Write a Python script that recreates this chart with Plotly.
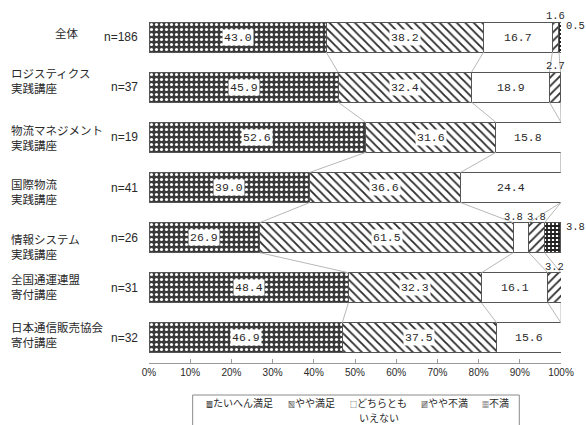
import plotly.graph_objects as go

# Survey results: satisfaction by course (percent of respondents)
course_lines = [
    ["全体"],
    ["ロジスティクス", "実践講座"],
    ["物流マネジメント", "実践講座"],
    ["国際物流", "実践講座"],
    ["情報システム", "実践講座"],
    ["全国通運連盟", "寄付講座"],
    ["日本通信販売協会", "寄付講座"],
]
sample_sizes = ["n=186", "n=37", "n=19", "n=41", "n=26", "n=31", "n=32"]
levels = ["たいへん満足", "やや満足", "どちらとも<br>いえない", "やや不満", "不満"]

very_satisfied = [43.0, 45.9, 52.6, 39.0, 26.9, 48.4, 46.9]
satisfied = [38.2, 32.4, 31.6, 36.6, 61.5, 32.3, 37.5]
neutral = [16.7, 18.9, 15.8, 24.4, 3.8, 16.1, 15.6]
dissatisfied = [1.6, 2.7, 0.0, 0.0, 3.8, 3.2, 0.0]
very_dissatisfied = [0.5, 0.0, 0.0, 0.0, 3.8, 0.0, 0.0]

x_ticks = [0, 10, 20, 30, 40, 50, 60, 70, 80, 90, 100]
x_tick_labels = ["0%", "10%", "20%", "30%", "40%", "50%", "60%", "70%", "80%", "90%", "100%"]

series = [very_satisfied, satisfied, neutral, dissatisfied, very_dissatisfied]

JP_FONT = "Noto Sans CJK JP"
NUM_FONT = "Liberation Mono, DejaVu Sans Mono, monospace"
NARROW_FONT = "Liberation Sans Narrow, Arial Narrow, Liberation Sans, sans-serif"
TEXT = "#2a2a2a"
BAR_W = 0.6

# plot area geometry in pixels (used to place the text outside the axes)
W, H = 586, 425
ML, MR, MT, MB = 149, 22, 12, 62
PW, PH = W - ML - MR, H - MT - MB


def px_x(px):
    return (px - ML) / PW


def px_y(py):
    return (H - MB - py) / PH


patterns = [
    dict(shape=".", fgcolor="#ffffff", bgcolor="#3a3a3a", size=5, solidity=0.3, fillmode="replace"),
    dict(shape="\\", fgcolor="#2a2a2a", bgcolor="#ffffff", size=6, solidity=0.3, fillmode="replace"),
    dict(shape="", fgcolor="#ffffff", bgcolor="#ffffff"),
    dict(shape="/", fgcolor="#2a2a2a", bgcolor="#ffffff", size=6, solidity=0.3, fillmode="replace"),
    dict(shape="+", fgcolor="#222222", bgcolor="#ffffff", size=4, solidity=0.7, fillmode="replace"),
]
legend_marks = ["▩", "▧", "□", "▨", "▦"]

ypos = list(range(len(course_lines)))

fig = go.Figure()

# cumulative boundaries of each stacked bar
cums = []
for i in ypos:
    c, row = 0.0, []
    for s in series:
        c += s[i]
        row.append(min(c, 100.0))
    cums.append(row)

# grey connector lines between neighbouring bars at each segment boundary
lx, ly = [], []
for i in ypos[:-1]:
    for k in range(4):
        lx += [cums[i][k], cums[i + 1][k], None]
        ly += [i + BAR_W / 2, i + 1 - BAR_W / 2, None]
fig.add_trace(go.Scatter(x=lx, y=ly, mode="lines", line=dict(color="#b8b8b8", width=1),
                         hoverinfo="skip", showlegend=False))

for name, vals, pat in zip(levels, series, patterns):
    fig.add_trace(go.Bar(
        y=ypos, x=vals, name=name.replace("<br>", ""), orientation="h", width=BAR_W,
        marker=dict(color=pat["bgcolor"], pattern=pat, line=dict(color="#555555", width=1)),
        showlegend=False,
    ))

annotations = []
# vertical offset (px) of each course-name block relative to its bar
name_shift = [-4, -6.5, 0.5, 3.5, 8.5, -1.5, -3]

for i in ypos:
    start = 0.0
    for k, s in enumerate(series):
        v = s[i]
        mid = start + v / 2
        if v >= 5:
            annotations.append(dict(
                x=mid, y=i, xref="x", yref="y", text=f"{v:.1f}", showarrow=False,
                bgcolor="#ffffff", borderpad=1,
                font=dict(family=NUM_FONT, size=11.5, color=TEXT)))
        elif v > 0:
            if k == 4:
                annotations.append(dict(
                    x=100, y=i - 0.22, xref="x", yref="y", text=f"{v:.1f}", showarrow=False,
                    xanchor="left", xshift=3,
                    font=dict(family=NUM_FONT, size=10.5, color=TEXT)))
            else:
                annotations.append(dict(
                    x=mid, y=i - BAR_W / 2, xref="x", yref="y", text=f"{v:.1f}", showarrow=False,
                    yanchor="bottom", yshift=-2, xshift=-8 if k == 2 else 0,
                    font=dict(family=NUM_FONT, size=10.5, color=TEXT)))
        start += v

    # course name and sample size on the left
    lines = course_lines[i]
    if len(lines) == 1:
        annotations.append(dict(
            x=px_x(66), y=i, xref="paper", yref="y", text=lines[0], showarrow=False,
            xanchor="center", yshift=-name_shift[i],
            font=dict(family=JP_FONT, size=11.5, color=TEXT)))
    else:
        for j, line in enumerate(lines):
            annotations.append(dict(
                x=px_x(8), y=i, xref="paper", yref="y", text=line, showarrow=False,
                xanchor="left", yshift=-(name_shift[i] + (j - 0.5) * 15),
                font=dict(family=JP_FONT, size=11.5, color=TEXT)))
    annotations.append(dict(
        x=px_x(140), y=i, xref="paper", yref="y", text=sample_sizes[i], showarrow=False,
        xanchor="right",
        font=dict(family=NARROW_FONT, size=12, color=TEXT)))

# legend below the axis
legend_x = [205, 288, 350, 422, 483]
for k, (mark, name) in enumerate(zip(legend_marks, levels)):
    parts = name.split("<br>")
    annotations.append(dict(
        x=px_x(legend_x[k]), y=px_y(403), xref="paper", yref="paper",
        text=f'<span style="font-size:7px">{mark}</span>{parts[0]}', showarrow=False,
        xanchor="left", yanchor="middle", borderpad=0,
        font=dict(family=JP_FONT, size=10, color=TEXT)))
    if len(parts) > 1:
        annotations.append(dict(
            x=px_x(381), y=px_y(417.5), xref="paper", yref="paper",
            text=parts[1], showarrow=False,
            xanchor="center", yanchor="middle", borderpad=0,
            font=dict(family=JP_FONT, size=10, color=TEXT)))

shapes = [dict(type="rect", xref="paper", yref="paper",
               x0=px_x(193), x1=px_x(522), y0=px_y(395), y1=px_y(440),
               line=dict(color="#8a8a8a", width=1), fillcolor="rgba(0,0,0,0)", layer="above")]

fig.update_layout(
    width=W, height=H,
    margin=dict(l=ML, r=MR, t=MT, b=MB),
    plot_bgcolor="#ffffff", paper_bgcolor="#ffffff",
    barmode="stack",
    annotations=annotations,
    shapes=shapes,
    xaxis=dict(range=[0, 100], tickvals=x_ticks, ticktext=x_tick_labels,
               showgrid=False, zeroline=False, showline=True, linecolor="#9a9a9a",
               ticks="inside", ticklen=4, tickcolor="#9a9a9a",
               tickfont=dict(family=NARROW_FONT, size=10, color=TEXT), fixedrange=True),
    yaxis=dict(range=[len(course_lines) - 0.5, -0.5], showticklabels=False, showgrid=False,
               zeroline=False, showline=False, ticks="", fixedrange=True),
    showlegend=False,
)

fig.write_html("out.html")
